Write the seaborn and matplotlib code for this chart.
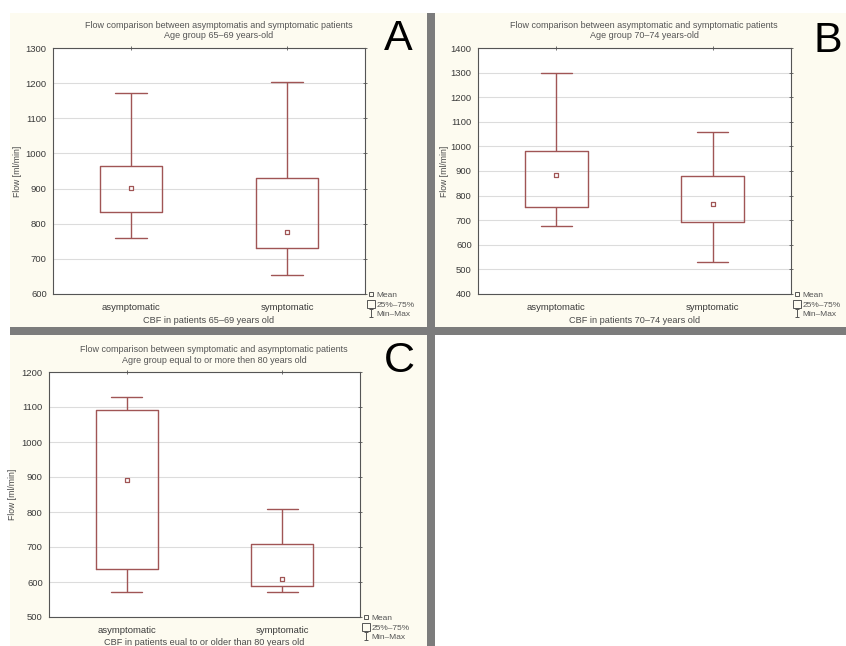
import numpy as np
import pandas as pd
import matplotlib
matplotlib.use("Agg")
import matplotlib.pyplot as plt
from matplotlib.patches import Rectangle
from matplotlib.lines import Line2D
from matplotlib.path import Path
import seaborn as sns

# ---------------- data ----------------
groups = ["asymptomatic", "symptomatic"]

a_min = [760, 655]
a_q1 = [833, 732]
a_mean = [903, 777]
a_q3 = [965, 930]
a_max = [1172, 1202]

b_min = [678, 532]
b_q1 = [755, 692]
b_mean = [885, 765]
b_q3 = [980, 878]
b_max = [1298, 1057]

c_min = [572, 572]
c_q1 = [638, 588]
c_mean = [892, 608]
c_q3 = [1092, 710]
c_max = [1128, 808]

a_title = "Flow comparison between asymptomatis and symptomatic patients\nAge group 65\u201369 years-old"
b_title = "Flow comparison between asymptomatic and symptomatic patients\nAge group 70\u201374 years-old"
c_title = "Flow comparison between symptomatic and asymptomatic patients\nAgre group equal to or more then 80 years old"
a_xlabel = "CBF in patients 65\u201369 years old"
b_xlabel = "CBF in patients 70\u201374 years old"
c_xlabel = "CBF in patients eual to or older than 80 years old"
ylabel = "Flow [ml/min]"
legend_labels = ["Mean", "25%\u201375%", "Min\u2013Max"]

a_yticks = list(range(600, 1301, 100))
b_yticks = list(range(400, 1401, 100))
c_yticks = list(range(500, 1201, 100))

# ---------------- style ----------------
sns.set_theme(style="white")
plt.rcParams["font.family"] = ["Liberation Sans", "DejaVu Sans"]

W, H = 846, 646
fig = plt.figure(figsize=(W / 100, H / 100), dpi=100)
fig.patch.set_facecolor("white")

BOX = "#a05555"
CREAM = "#fdfbf0"
GREY = "#7c7c7c"
TXT = "#3a3a3a"


def fx(x):
    return x / W


def fy(y):
    return 1 - y / H


def rect(x0, y0, x1, y1, color, z=-2):
    fig.patches.append(Rectangle((fx(x0), fy(y1)), fx(x1) - fx(x0), fy(y0) - fy(y1),
                                 transform=fig.transFigure, facecolor=color,
                                 edgecolor="none", zorder=z))


# panel backgrounds & separators
rect(10, 13, 427, 327, CREAM, -2)
rect(435, 13, 846, 329, CREAM, -2)
rect(10, 335, 427, 646, CREAM, -2)
rect(427, 13, 435, 646, GREY, -1)
rect(10, 327, 846, 335, GREY, -1)

ibeam = Path([(-0.5, -1), (0.5, -1), (0, -1), (0, 1), (-0.5, 1), (0.5, 1)],
             [Path.MOVETO, Path.LINETO, Path.MOVETO, Path.LINETO, Path.MOVETO, Path.LINETO])


def panel(box_px, mins, q1s, means, q3s, maxs, yticks, title, title_xy, xlabel,
          letter, letter_xy, ylab_x):
    l, r, t, b = box_px
    ax = fig.add_axes([fx(l), fy(b), fx(r) - fx(l), fy(t) - fy(b)])
    ax.set_facecolor("white")
    rows = []
    for g, mn, q1, me, q3, mx in zip(groups, mins, q1s, means, q3s, maxs):
        for v in (mn, q1, me, q3, mx):
            rows.append({"group": g, "flow": v})
    df = pd.DataFrame(rows)
    sns.boxplot(data=df, x="group", y="flow", order=groups, whis=(0, 100), width=0.4,
                fill=False, color=BOX, linewidth=1.0, showfliers=False,
                medianprops={"visible": False}, ax=ax, zorder=3)
    mdf = pd.DataFrame({"group": groups, "flow": means})
    sns.stripplot(data=mdf, x="group", y="flow", order=groups, jitter=False,
                  marker="s", size=3.4, color="white", edgecolor=BOX, linewidth=0.9,
                  ax=ax, zorder=4)
    ax.set_xlim(-0.5, 1.5)
    ax.set_ylim(yticks[0], yticks[-1])
    ax.set_yticks(yticks)
    ax.yaxis.grid(True, color="#dcdcdc", linewidth=0.8)
    ax.xaxis.grid(False)
    ax.set_axisbelow(True)
    for s in ax.spines.values():
        s.set_color("#555555")
        s.set_linewidth(0.8)
        s.set_visible(True)
    ax.tick_params(axis="both", which="both", direction="inout", length=3, width=0.6,
                   color="#555555", top=True, right=True, labelsize=6.8,
                   labelcolor=TXT, pad=3)
    ax.tick_params(axis="x", pad=5)
    ax.set_xlabel(xlabel, fontsize=6.6, color="#4a4a4a")
    ax.xaxis.set_label_coords(0.5, -0.106)
    ax.xaxis.label.set_va("center")
    ax.set_ylabel(ylabel, fontsize=6.2, color="#4a4a4a")
    ax.yaxis.set_label_coords((ylab_x - l) / (r - l), 0.5)
    ax.yaxis.label.set_va("center")
    fig.text(fx(title_xy[0]), fy(title_xy[1]), title, ha="center", va="center",
             fontsize=6.45, color="#555555", linespacing=1.15)
    fig.text(fx(letter_xy[0]), fy(letter_xy[1]), letter, ha="center", va="center",
             fontsize=31, color="black")
    handles = [
        Line2D([], [], marker="s", ls="none", mfc="none", mec="#555555", ms=2.6, mew=0.7),
        Line2D([], [], marker="s", ls="none", mfc="none", mec="#555555", ms=5.5, mew=0.7),
        Line2D([], [], marker=ibeam, ls="none", mfc="none", mec="#555555", ms=5.5, mew=0.7),
    ]
    ax.legend(handles, legend_labels, loc="upper left", bbox_to_anchor=(1.01, 0.01),
              frameon=False, fontsize=6.0, handlelength=0.6, handletextpad=0.4,
              labelspacing=0.2, borderaxespad=0, borderpad=0, labelcolor="#555555")
    return ax


panel((53, 365, 48, 294), a_min, a_q1, a_mean, a_q3, a_max, a_yticks, a_title, (219, 30.5),
      a_xlabel, "A", (398, 39), 18)
panel((478, 791, 48, 294), b_min, b_q1, b_mean, b_q3, b_max, b_yticks, b_title, (644, 30.5),
      b_xlabel, "B", (828, 41), 444)
panel((49, 360, 372, 617), c_min, c_q1, c_mean, c_q3, c_max, c_yticks, c_title, (214, 355),
      c_xlabel, "C", (399, 361), 13)

fig.savefig("out.png", dpi=100, facecolor="white")
